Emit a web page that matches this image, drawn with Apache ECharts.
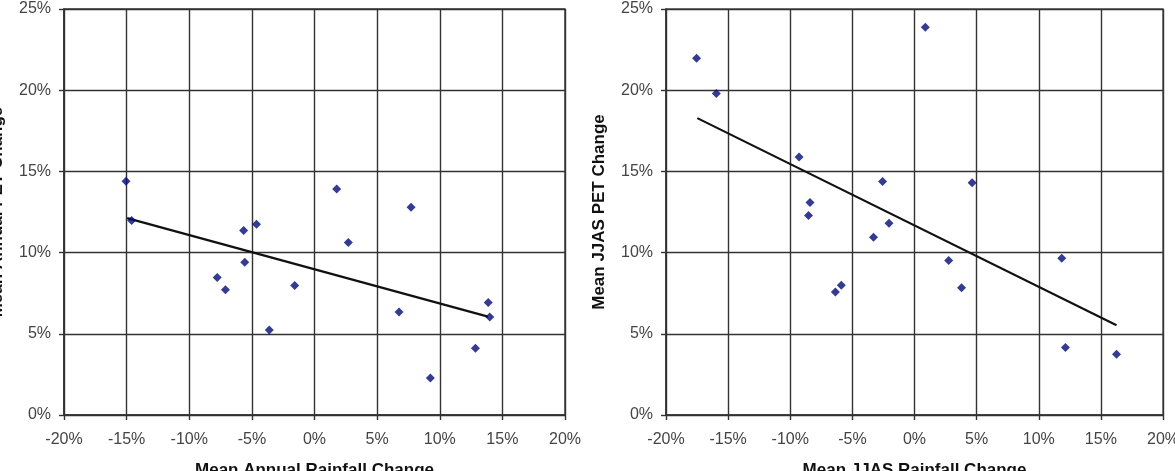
<!DOCTYPE html>
<html>
<head>
<meta charset="utf-8">
<script src="https://cdn.jsdelivr.net/npm/echarts@6/dist/echarts.min.js"></script>
<style>
html,body{margin:0;padding:0;background:#fff;}
#chart{width:1175px;height:471px;}
</style>
</head>
<body>
<div id="chart"></div>
<script>
// Left panel: Mean Annual Rainfall Change (%) vs Mean Annual PET Change (%)
const annualRain = [-15.05, -14.6, -5.66, -4.63, -5.57, -7.77, -7.11, -3.61, -1.58, 1.77, 2.70, 7.71, 6.75, 9.25, 12.85, 13.87, 13.99];
const annualPET  = [14.4, 11.98, 11.36, 11.75, 9.41, 8.46, 7.72, 5.24, 7.97, 13.91, 10.62, 12.8, 6.35, 2.28, 4.11, 6.92, 6.04];
const annualTrendX = [-14.96, 13.85];
const annualTrendY = [12.12, 6.06];

// Right panel: Mean JJAS Rainfall Change (%) vs Mean JJAS PET Change (%)
const jjasRain = [-17.54, -15.95, -9.29, -8.41, -8.53, -6.37, -5.89, -3.30, -2.57, -2.05, 0.87, 2.75, 3.79, 4.64, 11.85, 12.15, 16.26];
const jjasPET  = [21.96, 19.8, 15.88, 13.09, 12.28, 7.58, 7.99, 10.95, 14.38, 11.81, 23.87, 9.51, 7.83, 14.3, 9.65, 4.15, 3.74];
const jjasTrendX = [-17.48, 16.26];
const jjasTrendY = [18.28, 5.53];

const xTicks = [-20, -15, -10, -5, 0, 5, 10, 15, 20];
const yTicks = [0, 5, 10, 15, 20, 25];

const titles = {
  leftX: 'Mean Annual Rainfall Change',
  leftY: 'Mean Annual PET Change',
  rightX: 'Mean JJAS Rainfall Change',
  rightY: 'Mean JJAS PET Change'
};

const FONT = '"Liberation Sans", Arial, sans-serif';
const pct = v => v + '%';
const gridLine = { show: true, lineStyle: { color: '#333', width: 1.4 } };
const axisLine = { show: true, onZero: false, lineStyle: { color: '#333', width: 1.6 } };
const axisTick = { show: true, length: 5, lineStyle: { color: '#333', width: 1.4 } };
const label = { color: '#444', fontSize: 16, fontFamily: FONT, formatter: pct };
const nameStyle = { fontWeight: 'bold', fontSize: 17, color: '#111', fontFamily: FONT };

function xAxis(idx, name) {
  return {
    type: 'value', gridIndex: idx, min: xTicks[0], max: xTicks[xTicks.length - 1], interval: 5,
    name: name, nameLocation: 'middle', nameGap: 47, nameTextStyle: nameStyle,
    axisLine: axisLine, axisTick: axisTick, axisLabel: Object.assign({ margin: 17 }, label),
    splitLine: gridLine
  };
}
function yAxis(idx, name, gap) {
  return {
    type: 'value', gridIndex: idx, min: yTicks[0], max: yTicks[yTicks.length - 1], interval: 5,
    name: name, nameLocation: 'middle', nameGap: gap, nameTextStyle: nameStyle,
    axisLine: axisLine, axisTick: axisTick, axisLabel: Object.assign({ margin: 13 }, label),
    splitLine: gridLine
  };
}
const zip = (a, b) => a.map((v, i) => [v, b[i]]);

const chart = echarts.init(document.getElementById('chart'), null, { renderer: 'canvas' });
chart.setOption({
  animation: false,
  backgroundColor: '#fff',
  grid: [
    { left: 64, right: 610, top: 9, bottom: 56, show: true, borderColor: '#333', borderWidth: 1.4,
      containLabel: false, outerBoundsMode: 'none' },
    { left: 666, right: 12, top: 9, bottom: 56, show: true, borderColor: '#555', borderWidth: 1.4,
      containLabel: false, outerBoundsMode: 'none' }
  ],
  xAxis: [xAxis(0, titles.leftX), xAxis(1, titles.rightX)],
  yAxis: [yAxis(0, titles.leftY, 58), yAxis(1, titles.rightY, 58)],
  series: [
    { type: 'scatter', xAxisIndex: 0, yAxisIndex: 0, data: zip(annualRain, annualPET),
      symbol: 'diamond', symbolSize: 9, itemStyle: { color: '#000a78' }, z: 3 },
    { type: 'line', xAxisIndex: 0, yAxisIndex: 0, data: zip(annualTrendX, annualTrendY),
      symbol: 'none', lineStyle: { color: '#111', width: 2.2 }, z: 2 },
    { type: 'scatter', xAxisIndex: 1, yAxisIndex: 1, data: zip(jjasRain, jjasPET),
      symbol: 'diamond', symbolSize: 9, itemStyle: { color: '#000a78' }, z: 3 },
    { type: 'line', xAxisIndex: 1, yAxisIndex: 1, data: zip(jjasTrendX, jjasTrendY),
      symbol: 'none', lineStyle: { color: '#111', width: 2.2 }, z: 2 }
  ]
});
</script>
</body>
</html>
